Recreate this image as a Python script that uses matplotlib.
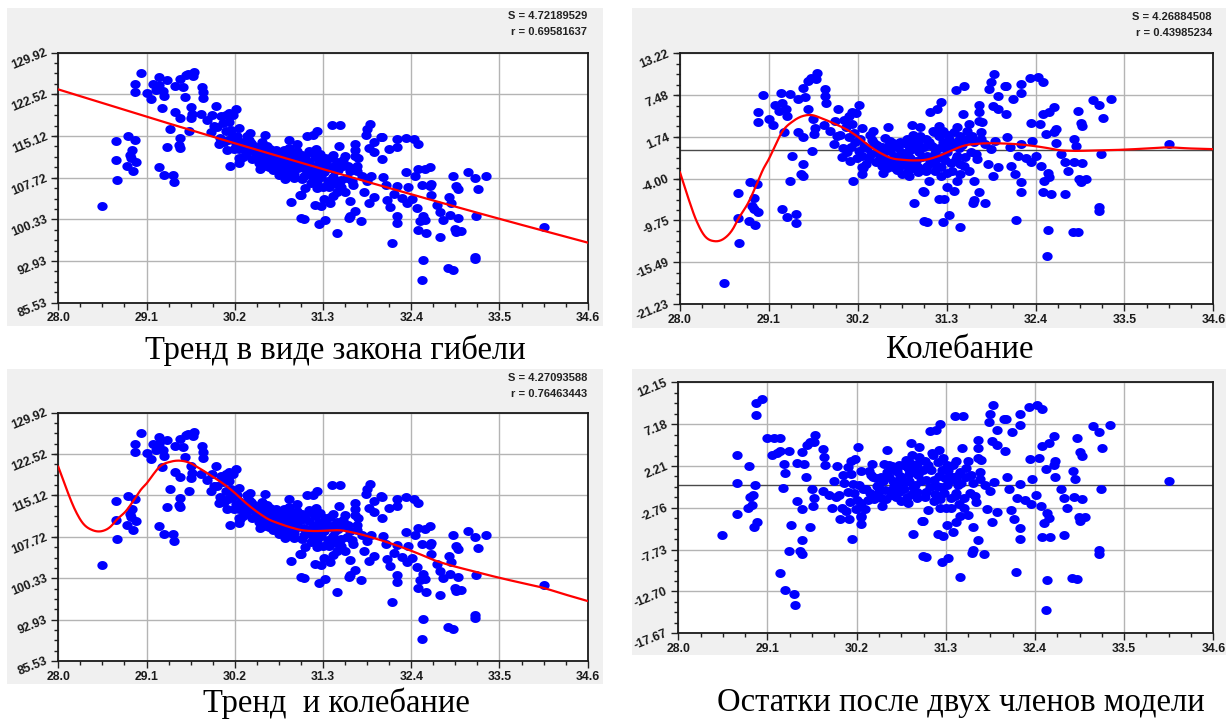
import numpy as np
import matplotlib
matplotlib.use("Agg")
import matplotlib.pyplot as plt
from matplotlib.patches import Rectangle
from matplotlib.path import Path
from matplotlib.markers import MarkerStyle
from matplotlib.ticker import FixedLocator, AutoMinorLocator

# ---- data ------------------------------------------------------------
# points: x and deviation from the trend (as seen on the "Колебание" panel)
pt_x = [
    28.54, 28.72, 28.72, 28.73, 28.87, 28.95, 28.92, 28.89, 28.91, 28.97,
    28.86, 28.93, 28.96, 28.96, 29.03, 29.10, 29.15,
    29.25, 29.36, 29.18, 29.26, 29.31, 29.22, 29.32, 29.29, 29.46, 29.52,
    29.46, 29.55, 29.52, 29.59, 29.62, 29.69, 29.68, 29.79, 29.80, 29.81,
    29.58, 29.65, 29.67, 29.78, 29.66, 29.63, 29.39, 29.52, 29.50, 29.52,
    29.36, 29.26, 29.32, 29.43, 29.44,
    29.96, 30.09, 30.13, 30.22, 30.18, 29.94, 30.05, 30.13, 30.09, 30.17,
    30.25, 30.39, 30.07, 30.21, 30.25, 30.34, 30.42, 30.25, 30.14, 30.25,
    30.26, 30.00, 30.12,
    29.86, 29.90, 29.92, 29.98, 30.02, 30.03, 30.10, 30.15, 30.19, 30.23,
    30.28, 30.30, 30.35,
    30.58, 30.87, 30.97, 30.50, 30.58, 30.69, 30.81, 30.83, 30.92, 30.75,
    30.65, 30.55, 30.50, 30.62, 30.70, 30.78, 30.85, 30.92, 30.96, 30.51,
    30.63, 30.75, 30.83, 30.94, 31.01, 30.90, 31.02, 30.45, 30.60, 30.72,
    30.88, 30.95, 30.68, 30.88, 30.40, 30.48,
    30.32, 30.36, 30.38, 30.44, 30.46, 30.52, 30.54, 30.56, 30.60, 30.64,
    30.66, 30.70, 30.72, 30.74, 30.77, 30.80, 30.82, 30.84, 30.86, 30.89,
    30.91, 30.94, 30.97, 30.99,
    31.10, 31.18, 31.23, 31.41, 31.51, 31.50, 31.58, 31.43, 31.21, 31.14,
    31.04, 31.39, 31.47, 31.06, 31.19, 31.31, 31.43, 31.52, 31.06, 31.23,
    31.37, 31.23, 31.08, 31.43, 31.47, 31.31, 31.39, 31.02, 31.20, 31.27,
    31.33, 31.25, 31.06, 31.47, 31.12, 31.25, 31.35, 31.28, 31.15, 31.32,
    31.20, 31.45,
    31.02, 31.04, 31.08, 31.10, 31.13, 31.16, 31.17, 31.21, 31.24, 31.26,
    31.29, 31.30, 31.33, 31.36, 31.38, 31.41, 31.44, 31.46, 31.49, 31.53,
    31.55, 31.58, 31.61, 31.66,
    31.88, 31.85, 31.83, 31.93, 31.87, 31.93, 31.70, 31.70, 31.70, 31.74,
    31.72, 31.72, 31.64, 31.85, 31.67, 31.81, 31.93, 31.87, 31.64, 31.70,
    31.77, 31.62, 31.64, 31.60, 31.78, 31.90, 31.55,
    32.02, 32.04, 32.22, 32.33, 32.43, 32.49, 32.22, 32.12, 32.03, 32.05,
    32.22, 32.34, 32.45, 32.49, 32.36, 32.14, 32.10, 32.18, 32.22, 32.22,
    32.16, 32.41, 32.35, 32.47, 32.08, 32.28,
    32.57, 32.63, 32.53, 32.65, 32.63, 32.65, 32.92, 32.98, 32.96, 32.87,
    32.90, 32.72, 32.76, 32.80, 32.88, 32.98, 32.94, 32.96, 33.02, 32.86,
    32.92, 32.55, 32.54, 32.76, 32.59, 32.49, 32.51, 32.57, 32.55,
    33.11, 33.19, 33.33, 33.23, 33.21, 33.19, 33.19, 34.05,
]
pt_dev = [
    -18.3, -6.0, -9.42, -12.9, -4.52, -4.75, -6.72, -7.73, -8.19, -8.65,
    -9.79, -10.34, 5.18, 3.72, 7.51, 4.18, 3.35,
    7.74, 7.6, 6.1, 6.37, 5.55, 5.3, 4.6, 2.43, 2.34, 1.66,
    6.92, 7.15, 8.5, 9.44, 9.8, 10.5, 9.7, 8.3, 7.4, 6.37,
    5.6, 4.17, 3.0, 3.35, 2.1, -0.27, -0.96, -2.0, -3.38, -3.7,
    -4.3, -8.19, -9.33, -8.87, -10.16,
    5.55, 4.63, 5.1, 6.1, 5.0, 1.89, 3.03, 3.49, 1.66, 0.97,
    2.89, 2.57, -0.4, -0.17, -0.86, -1.32, -1.78, -2.45, -4.3, -3.38,
    -2.6, -1.0, 0.3,
    2.6, 0.8, 3.9, 2.0, 0.2, 4.1, -1.6, 2.2, -1.1, 1.5,
    0.5, -2.0, 2.0,
    3.08, 3.4, 3.03, 0.28, 0.51, 0.28, 1.43, 0.51, 0.05, -0.64,
    -0.9, -1.5, -2.2, -1.9, -1.4, -2.0, -1.1, -1.6, -0.4, -3.24,
    -2.46, -3.38, -3.7, -3.15, -5.76, -7.41, -9.88, -0.5, 1.2, 1.0,
    2.0, 1.0, -2.8, -2.6, 0.9, -0.9,
    0.2, -0.6, 1.3, 0.6, -1.4, -0.3, 1.6, -2.6, -0.2, 0.9,
    -1.5, 0.3, -2.3, -0.4, 0.9, -1.2, -2.9, -0.2, 1.1, -1.8,
    0.6, -2.4, 1.8, -1.0,
    5.09, 5.55, 6.46, 8.2, 8.66, 4.86, 3.49, 3.03, 3.26, 2.34,
    1.43, 2.34, 1.89, -0.86, -1.1, -0.4, -0.86, -2.24, -2.24, -2.46,
    -2.9, -3.6, -4.3, -4.3, -3.38, -5.2, -5.66, -5.8, -6.74, -6.74,
    -8.97, -9.93, -9.93, -10.6, 0.5, 1.0, 0.8, -1.5, -3.0, 2.0,
    1.8, 0.2,
    0.3, -2.9, 1.0, -1.6, 2.6, -0.5, -2.1, 0.2, -1.0, 2.5,
    0.3, -3.2, 1.4, -1.8, 0.5, -1.3, 1.2, -2.0, 0.6, -1.0,
    2.6, -2.9, 1.9, -0.6,
    10.36, 9.3, 8.3, 7.37, 6.0, 5.55, 6.1, 5.09, 3.95, 3.72,
    2.34, 1.43, 0.97, 0.05, -1.32, -2.0, -2.46, -3.6, -4.3, -5.8,
    -7.37, -7.37, -7.0, -0.3, 0.8, 1.2, 1.5,
    8.66, 8.66, 9.07, 9.76, 9.9, 9.3, 7.74, 7.0, 4.86, 1.66,
    0.74, 3.63, 3.49, 4.86, 1.2, -3.38, -2.24, -0.86, -4.52, -5.8,
    -9.65, -0.86, -1.78, -2.24, 0.3, -1.2,
    5.09, 5.78, 2.11, 2.8, 2.34, 0.88, 5.32, 3.17, 3.63, 1.43,
    0.51, -0.63, -1.78, -2.9, -1.69, -1.87, -4.05, -4.5, -4.05, -11.3,
    -11.39, -11.1, -14.7, -6.1, -6.1, -5.9, -4.3, -3.84, -3.17,
    6.83, 6.1, 7.0, 4.27, -0.63, -7.93, -8.39, 0.75,
]

trend_x = [28.0, 29.1, 30.2, 31.3, 32.4, 33.5, 34.6]
trend_y = [123.40, 118.56, 113.84, 109.25, 104.78, 100.42, 96.20]

osc_x = [28.00, 28.10, 28.20, 28.30, 28.43, 28.55, 28.65, 28.72, 28.85, 28.95,
         29.03, 29.10, 29.18, 29.26, 29.40, 29.52, 29.63, 29.75, 29.90, 30.09,
         30.20, 30.34, 30.50, 30.62, 30.75, 30.90, 31.04, 31.20, 31.35, 31.51,
         31.70, 31.97, 32.20, 32.50, 32.70, 32.83, 33.10, 33.45, 33.80, 34.03,
         34.30, 34.60]
osc_y = [-3.15, -6.6, -9.7, -11.8, -12.6, -12.2, -11.0, -9.56, -7.2, -4.75,
         -2.7, -1.3, 0.6, 2.35, 3.9, 4.6, 4.73, 4.3, 3.6, 2.57,
         1.75, 0.51, -0.6, -1.2, -1.41, -1.5, -1.41, -0.9, -0.2, 0.51,
         0.8, 0.84, 0.7, 0.29, -0.1, -0.18, -0.15, -0.04, 0.15, 0.29,
         0.15, 0.05]

x_ticks = [28.0, 29.1, 30.2, 31.3, 32.4, 33.5, 34.6]
y_ticks_raw = [85.53, 92.93, 100.33, 107.72, 115.12, 122.52, 129.92]
y_ticks_osc = [-21.23, -15.49, -9.75, -4.00, 1.74, 7.48, 13.22]
y_ticks_res = [-17.67, -12.70, -7.73, -2.76, 2.21, 7.18, 12.15]

stats = [("S = 4.72189529", "r = 0.69581637"),
         ("S = 4.26884508", "r = 0.43985234"),
         ("S = 4.27093588", "r = 0.76463443")]
captions = ["Тренд в виде закона гибели", "Колебание",
            "Тренд  и колебание", "Остатки после двух членов модели"]


def smooth(xk, yk, xq):
    # cubic Hermite through the read-off knots
    xk = np.asarray(xk, float)
    yk = np.asarray(yk, float)
    m = np.gradient(yk, xk)
    i = np.clip(np.searchsorted(xk, xq) - 1, 0, len(xk) - 2)
    h = xk[i + 1] - xk[i]
    t = (xq - xk[i]) / h
    return ((2 * t**3 - 3 * t**2 + 1) * yk[i] + (t**3 - 2 * t**2 + t) * h * m[i]
            + (-2 * t**3 + 3 * t**2) * yk[i + 1] + (t**3 - t**2) * h * m[i + 1])


# ---- derived series ---------------------------------------------------
px = np.array(pt_x)
dev = np.array(pt_dev)
raw = smooth(trend_x, trend_y, px) + dev
res = dev - smooth(osc_x, osc_y, px)
xs = np.linspace(28.0, 34.6, 600)
trend_line = smooth(trend_x, trend_y, xs)
osc_line = smooth(osc_x, osc_y, xs)

# ---- layout (pixels) --------------------------------------------------
W, H = 1228, 720
fig = plt.figure(figsize=(W / 100, H / 100), dpi=100)
fig.patch.set_facecolor("white")

t = np.linspace(0, 2 * np.pi, 48)
ellipse = MarkerStyle(Path(np.column_stack([1.15 * np.cos(t), np.sin(t)])))

tick_font = dict(family="Liberation Sans", weight="bold", size=8.8)


def gray(x0, y0, x1, y1):
    fig.patches.append(Rectangle((x0 / W, 1 - y1 / H), (x1 - x0) / W, (y1 - y0) / H,
                                 transform=fig.transFigure, facecolor="#f0f0f0",
                                 edgecolor="none", zorder=-10))


def panel(box, yticks, zero=False):
    x0, y0, x1, y1 = box
    ax = fig.add_axes([x0 / W, 1 - y1 / H, (x1 - x0) / W, (y1 - y0) / H])
    ax.set_facecolor("white")
    ax.set_xlim(28.0, 34.6)
    ax.set_ylim(yticks[0], yticks[-1])
    ax.xaxis.set_major_locator(FixedLocator(x_ticks))
    ax.yaxis.set_major_locator(FixedLocator(yticks))
    ax.xaxis.set_minor_locator(AutoMinorLocator(4))
    ax.yaxis.set_minor_locator(AutoMinorLocator(4))
    ax.set_xticklabels(["%.1f" % v for v in x_ticks], **tick_font)
    ax.set_yticklabels(["%.2f" % v for v in yticks], **tick_font)
    for lab in ax.get_yticklabels():
        lab.set_rotation(22)
        lab.set_rotation_mode("anchor")
        lab.set_ha("right")
        lab.set_va("center")
    ax.tick_params(which="major", direction="out", length=5, width=1, color="#202020",
                   labelcolor="#1a1a1a")
    ax.tick_params(which="minor", direction="out", length=3, width=1, color="#202020")
    ax.tick_params(axis="x", pad=2)
    ax.tick_params(axis="y", pad=3)
    ax.grid(True, which="major", color="#b4b4b4", lw=1)
    ax.set_axisbelow(True)
    for s in ax.spines.values():
        s.set_color("#1a1a1a")
        s.set_linewidth(1.3)
    if zero:
        ax.axhline(0, color="#4a4a4a", lw=1, zorder=1.5)
    return ax


def stat_text(xr, ytop, pair):
    fig.text(xr / W, 1 - ytop / H, pair[0], ha="right", va="center",
             family="Liberation Sans", weight="bold", size=8.0, color="#222222")
    fig.text(xr / W, 1 - (ytop + 16.5) / H, pair[1], ha="right", va="center",
             family="Liberation Sans", weight="bold", size=8.0, color="#222222")


gray(7, 8, 603, 326)
gray(632, 8, 1226, 328)
gray(7, 369, 603, 684)
gray(632, 369, 1226, 655)

marker_kw = dict(s=55, marker=ellipse, color="#0000ff", linewidths=0, zorder=2)

# panel 1: trend
ax1 = panel((58.3, 52.7, 587.7, 302.7), y_ticks_raw)
ax1.scatter(px, raw, **marker_kw)
ax1.plot(xs, trend_line, color="#ff0000", lw=1.6, zorder=3)
stat_text(587, 15.7, stats[0])

# panel 2: oscillation
ax2 = panel((680, 53.3, 1213.3, 304), y_ticks_osc, zero=True)
ax2.scatter(px, dev, **marker_kw)
ax2.plot(xs, osc_line, color="#ff0000", lw=1.6, zorder=3)
stat_text(1212, 16.7, stats[1])

# panel 3: trend + oscillation
ax3 = panel((58.3, 412.7, 587.7, 661), y_ticks_raw)
ax3.scatter(px, raw, **marker_kw)
ax3.plot(xs, trend_line + osc_line, color="#ff0000", lw=1.6, zorder=3)
stat_text(587, 377.7, stats[2])

# panel 4: residuals
ax4 = panel((678.3, 382.3, 1213.3, 633.3), y_ticks_res, zero=True)
ax4.scatter(px, res, **marker_kw)

cap_font = dict(family="Liberation Serif", size=23.5, ha="center", va="center")
fig.text(335 / W, 1 - 350 / H, captions[0], **cap_font)
fig.text(960 / W, 1 - 350 / H, captions[1], **cap_font)
fig.text(336 / W, 1 - 703 / H, captions[2], **cap_font)
fig.text(961 / W, 1 - 703 / H, captions[3], **cap_font)

fig.savefig("out.png", dpi=100, facecolor="white")
